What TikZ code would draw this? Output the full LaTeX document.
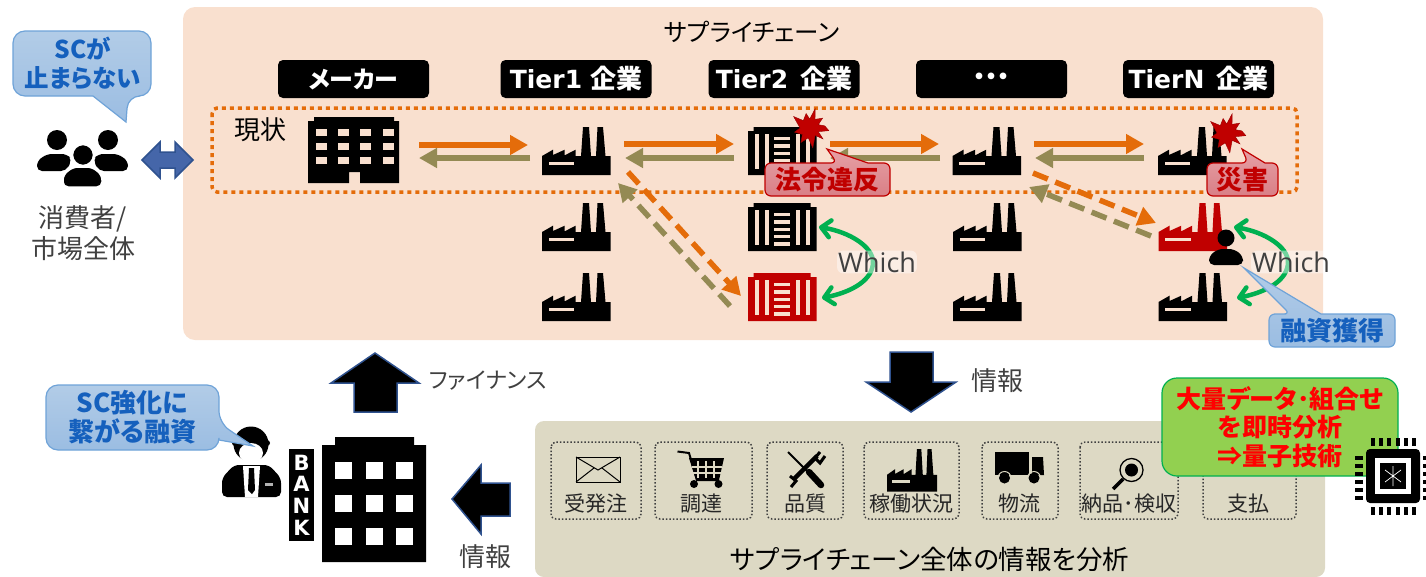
\documentclass[tikz,border=0pt]{standalone}
\usepackage{fontspec}
\usetikzlibrary{arrows.meta,calc}
\setmainfont[RawFeature=+palt]{Noto Sans CJK JP}
\newfontfamily\latinb{DejaVu Sans}
\newfontfamily\lightf{Open Sans}
\newcommand\fsz[1]{\fontsize{#1}{#1}\selectfont}
\definecolor{panel}{HTML}{F9E0CF}
\definecolor{graypanel}{HTML}{DDD9C4}
\definecolor{forange}{HTML}{E46C0A}
\definecolor{folive}{HTML}{948A54}
\definecolor{crimson}{HTML}{C00000}
\definecolor{fblue}{HTML}{1560BD}
\definecolor{fblueB}{HTML}{4566A9}
\definecolor{boxgreen}{HTML}{92D050}
\definecolor{navyline}{HTML}{2F528F}
\definecolor{dgray}{HTML}{404040}
\definecolor{fgreen}{HTML}{00B050}
\definecolor{redtop}{HTML}{E6A0A5}
\definecolor{redbot}{HTML}{D97F86}
\definecolor{bluetop}{HTML}{B2CCE7}
\definecolor{bluebot}{HTML}{9BBDE2}
\definecolor{bluebd}{HTML}{6FA3D8}
\tikzset{
  pics/factory/.style n args={2}{code={
    \fill[#1] (0,48)--(0,29)--(11,22.7)--(11,28)--(22.7,22.7)--(22.7,28.3)--(33.7,22.7)--(33.7,29)--(39,29)--(41,0)--(47,0)--(49,29)--(54,29)--(55.5,0)--(61,0)--(63.5,29)--(68.5,29)--(68.5,48)--cycle;
    \fill[#2] (6.7,35) rectangle (32,38);
  }},
  pics/container/.style n args={2}{code={
    \fill[#1] (5.5,0)--(62.5,0)--(62.5,4)--(68.5,4)--(68.5,48)--(0,48)--(0,4)--(5.5,4)--cycle;
    \foreach \xa/\xb in {6.7/10.7,16.7/20.7,48.3/52.3,58/62}{\fill[#2] (\xa,7.3) rectangle (\xb,41.6);}
    \foreach \ya/\yb in {9.5/13,17/20.7,24.7/28,32/35,39/42.5}{\fill[#2] (26,\ya) rectangle (42,\yb);}
  }},
  pics/starburst/.style={code={
    \fill[crimson,draw=crimson!80!black,line width=.4pt] (8:19)--(24:9)--(40:17)--(55:9)--(82:20)--(100:10)--(122:17)--(140:10)--(165:16)--(180:10)--(215:20)--(228:10)--(255:15)--(268:9)--(285:20)--(300:10)--(322:16)--(338:9)--(352:15)--cycle;
  }},
  darrow/.style={line width=5.5pt,-{Triangle[length=18pt,width=19pt]}},
  orangearrow/.style={darrow,forange},
  olivearrow/.style={darrow,folive},
  dashline/.style={dash pattern=on 16pt off 8pt},
  greenarrow/.style={line width=4.5pt,fgreen,{Straight Barb[length=9pt,width=17pt,round]}-{Straight Barb[length=9pt,width=17pt,round]}},
  blockarrow/.style={fill=black,draw=navyline,line width=1.5pt,line join=miter},
  blacklabel/.style={fill=black,text=white,rounded corners=5pt,minimum width=151pt,minimum height=38pt,inner sep=0pt,font=\fsz{24}\bfseries},
  infobox/.style={draw=dgray,line width=1.5pt,dash pattern=on 1.5pt off 2pt,rounded corners=5pt},
  infotext/.style={text=black!85,font=\fsz{21},inner sep=0pt},
  graytext/.style={text=dgray,font=\fsz{26},inner sep=0pt,align=center},
  redcall/.style={draw=crimson,line width=1.2pt,top color=redtop,bottom color=redbot},
  bluecall/.style={draw=bluebd,line width=1.2pt,top color=bluetop,bottom color=bluebot},
  redtext/.style={text=crimson,font=\fsz{26}\bfseries,inner sep=0pt},
  bluetext/.style={text=fblue,font=\fsz{26}\bfseries,inner sep=0pt,align=center},
  whichtext/.style={text=dgray,font=\lightf\fsz{27},fill=white,fill opacity=.45,text opacity=1,rounded corners=6pt,inner sep=1pt},
}
\begin{document}
\begin{tikzpicture}[x=1pt,y=-1pt]
\useasboundingbox (0,0) rectangle (1426,576);
% panels
\fill[panel,rounded corners=12pt] (183,7) rectangle (1323,340);
\fill[graypanel,rounded corners=9pt] (535,421) rectangle (1325,577);
\node[inner sep=0pt,font=\fsz{24.5}] (title) at (752,32) {サプライチェーン};
% tier labels
\node[blacklabel] (lmaker) at (353.5,79) {メーカー};
\node[blacklabel] (ltier1) at (576,79) {{\latinb\fsz{25}\bfseries Tier1}\,\,{\fsz{26}企業}};
\node[blacklabel] (ltier2) at (784,79) {{\latinb\fsz{25}\bfseries Tier2}\,\,\,{\fsz{26}企業}};
\node[blacklabel] (ldots) at (991.5,79) {・・・};
\node[blacklabel] (ltierN) at (1198.5,79) {{\latinb\fsz{25}\bfseries TierN}\,\,\,{\fsz{26}企業}};
% dotted frame
\draw[forange,line width=3.5pt,dash pattern=on 4pt off 4pt,rounded corners=5pt] (212,108) rectangle (1297,192);
\node[inner sep=0pt,font=\fsz{26}] (genjo) at (260,130) {現状};
% maker building
\fill (314,117)--(394,117)--(394,121)--(399,121)--(399,183)--(360,183)--(360,172)--(349,172)--(349,183)--(308,183)--(308,121)--(314,121)--cycle;
\foreach \cx in {316,338,360,383}{\foreach \cy in {129,143,157}{\fill[panel] (\cx,\cy) rectangle ++(11,6.5);}}
% factories
\foreach \px/\py in {542/127,542/203,542/273,952.5/127,953/203,953/273,1158/127,1158.5/273}{\pic at (\px,\py) {factory={black}{panel}};}
\pic at (1158.5,203) {factory={crimson}{panel}};
\pic at (748,127) {container={black}{panel}};
\pic at (748,203) {container={black}{panel}};
\pic at (748,273) {container={crimson}{panel}};
% horizontal flow arrows
\coordinate (a1s) at (419,145); \coordinate (a1e) at (528,145);
\coordinate (b1s) at (530,158); \coordinate (b1e) at (419,158);
\coordinate (a2s) at (624,144); \coordinate (a2e) at (734,144);
\coordinate (b2s) at (734,158); \coordinate (b2e) at (625,158);
\coordinate (a3s) at (830,144); \coordinate (a3e) at (939,144);
\coordinate (b3s) at (940,158); \coordinate (b3e) at (830,158);
\coordinate (a4s) at (1034,144); \coordinate (a4e) at (1144,144);
\coordinate (b4s) at (1144,158); \coordinate (b4e) at (1035,158);
\foreach \n in {1,2,3,4}{
  \draw[orangearrow] (a\n s) -- (a\n e);
  \draw[olivearrow] (b\n s) -- (b\n e);
}
% diagonals
\coordinate (d1s) at (628,172); \coordinate (d1e) at (741,296);
\coordinate (e1s) at (730,306); \coordinate (e1e) at (618,183);
\coordinate (d2s) at (1033,173); \coordinate (d2e) at (1156,223);
\coordinate (e2s) at (1151,236); \coordinate (e2e) at (1029,187);
\draw[orangearrow,dashline] (d1s) -- (d1e);
\draw[olivearrow,dashline] (e1s) -- (e1e);
\draw[orangearrow,dashline] (d2s) -- (d2e);
\draw[olivearrow,dashline] (e2s) -- (e2e);
% green arrows
\coordinate (g1a) at (819,227); \coordinate (g1m) at (873,262); \coordinate (g1b) at (822,298);
\coordinate (g2a) at (1234,227); \coordinate (g2m) at (1288,262); \coordinate (g2b) at (1237,298);
\draw[greenarrow] (g1a) .. controls (850,232) and (873,247) .. (g1m) .. controls (873,280) and (852,292) .. (g1b);
\draw[greenarrow] (g2a) .. controls (1265,232) and (1288,247) .. (g2m) .. controls (1288,280) and (1267,292) .. (g2b);
\node[whichtext] (which1) at (877,262) {Which};
\node[whichtext] (which2) at (1291,262) {Which};
% person on red factory
\fill (1226,238) circle (8.5pt);
\fill[rounded corners=5pt] (1209,265)--(1209,256)--(1218,249)--(1234,249)--(1243,256)--(1243,265)--cycle;
% stars
\pic at (810,128) {starburst};
\pic at (1227,133) {starburst};
% red callouts
\draw[redcall,rounded corners=6pt] (800,163) -- (837,163) [sharp corners] -- (827,149) -- (868,163) [rounded corners=6pt] -- (890,163) -- (890,196) -- (765,196) -- (765,163) -- cycle;
\node[redtext] (law) at (827.5,180) {法令違反};
\draw[redcall,rounded corners=6pt] (1225,163) -- (1248,163) [sharp corners] -- (1242,149) -- (1265,163) [rounded corners=6pt] -- (1278,163) -- (1278,196) -- (1207,196) -- (1207,163) -- cycle;
\node[redtext] (dis) at (1242.5,180) {災害};
% blue callouts
\draw[bluecall,rounded corners=6pt] (1280,314) -- (1290,314) [sharp corners] -- (1244,268) -- (1321,314) [rounded corners=6pt] -- (1395,314) -- (1395,347) -- (1269,347) -- (1269,314) -- cycle;
\node[bluetext] (fin) at (1332,331) {融資獲得};
\draw[bluecall,rounded corners=12pt] (60,31) -- (151,31) -- (151,96) -- (128,96) [sharp corners] -- (126,122) -- (93,96) [rounded corners=12pt] -- (13,96) -- (13,31) -- cycle;
\node[bluetext,font=\fsz{24.5}\bfseries] (sc) at (83,63.5) {SCが\\[4pt]止まらない};
% banker
\fill[rounded corners=5pt] (222,497)--(222,478)--(234,465)--(269,465)--(281,478)--(281,497)--cycle;
\fill (251,444) circle (17.5pt);
\fill (235,443) circle (3pt) (267,443) circle (3pt);
\fill[white] (251,453) ellipse (12pt and 10pt);
\fill[white] (243,466)--(260,466)--(258,497)--(245,497)--cycle;
\fill (249,468)--(254,468)--(255,490)--(252,494)--(248,490)--cycle;
\fill[white!70!black] (265,483) rectangle (273,486);
\draw[bluecall,rounded corners=12pt] (120,385) -- (219,385) -- (219,423) [sharp corners] -- (253,446) -- (219,440) [rounded corners=12pt] -- (219,450) -- (46,450) -- (46,385) -- cycle;
\node[bluetext] (scs) at (132.5,417.5) {SC強化に\\[3pt]繋がる融資};
% consumers
\fill (57,140) circle (10pt) (108,140) circle (10pt);
\fill[rounded corners=5pt] (37,171)--(37,161)--(47,154)--(67,154)--(72,160)--(66,171)--cycle;
\fill[rounded corners=5pt] (128,171)--(128,161)--(118,154)--(98,154)--(93,160)--(99,171)--cycle;
\draw[white,line width=1.5pt,fill=black] (83,155) circle (10.5pt);
\draw[white,line width=1.5pt,fill=black,rounded corners=5pt] (63,187)--(63,175)--(73,167)--(92,167)--(102,175)--(102,187)--cycle;
\node[graytext] (cons) at (83,233) {消費者/\\[4pt]市場全体};
% double arrow
\draw[fill=fblueB,draw=navyline,line width=1.5pt] (142,160)--(160,142)--(160,152)--(175,152)--(175,142)--(193,160)--(175,178)--(175,168)--(160,168)--(160,178)--cycle;
% block arrows
\draw[blockarrow] (375,353)--(419,383)--(397,383)--(397,412)--(354,412)--(354,383)--(331,383)--cycle;
\node[graytext,font=\fsz{22.5}] (finance) at (488,381) {ファイナンス};
\draw[blockarrow] (911,412)--(956,382)--(933,382)--(933,352)--(890,352)--(890,382)--(866,382)--cycle;
\node[graytext] (info1) at (997,381) {情報};
\draw[blockarrow] (452,499)--(481,465)--(481,483)--(510,483)--(510,516)--(481,516)--(481,534)--cycle;
\node[graytext] (info2) at (485,557) {情報};
% bank building
\fill (335,437)--(414,437)--(414,445)--(426,445)--(426,562)--(322,562)--(322,445)--(335,445)--cycle;
\foreach \cx in {335,366,396}{\foreach \cy in {462,495,528}{\fill[white] (\cx,\cy) rectangle ++(17,17);}}
\node[fill=black,text=white,minimum width=25pt,minimum height=92pt,inner sep=0pt,align=center,font=\latinb\bfseries\fontsize{21}{21.7}\selectfont] (bank) at (301.5,495) {B\\A\\N\\K};
% info boxes
\foreach \xa/\xb in {551/641,655/752,767/843,864/959,982/1058,1080/1178,1203/1296}{
  \draw[infobox] (\xa,442) rectangle (\xb,519);}
\node[infotext] (t1) at (596,504) {受発注};
\node[infotext] (t2) at (701,504) {調達};
\node[infotext] (t3) at (805,504) {品質};
\node[infotext] (t4) at (911.5,504) {稼働状況};
\node[infotext] (t5) at (1019,504) {物流};
\node[infotext] (t6) at (1129,504) {納品･検収};
\node[infotext] (t7) at (1248,504) {支払};
% envelope
\draw[black,line width=1pt,fill=graypanel] (576,457) rectangle (620,482);
\draw[black,line width=1pt] (576,457)--(598,470)--(620,457) (576,482)--(594,468) (620,482)--(602,468);
% cart
\draw[black,line width=2pt] (677.5,451.5)--(689,453)--(697,480)--(719,480);
\fill (689,458) -- (724,458) -- (719,480) -- (696,480) -- cycle;
\foreach \gx in {698,706,714}{\draw[graypanel,line width=1.2pt] (\gx,461)--(\gx,478);}
\foreach \gy in {467,473}{\draw[graypanel,line width=1.2pt] (692,\gy)--(722,\gy);}
\fill (694,484) circle (4pt) (718.5,484) circle (4pt);
% tools
\draw[line width=1.8pt,black] (788,452)--(810,474);
\draw[line width=6.5pt,black,line cap=round] (809,472)--(821,485);
\draw[line width=4.5pt,black] (794,479)--(817,456);
\draw[line width=3pt,black] (790,476)--(796,481)--(791,487) (820,452)--(815,458)--(820,463)--(825,456);
% factory in box
\pic[xscale=.73,yscale=.89] at (887,449) {factory={black}{graypanel}};
% truck
\fill (995,452) rectangle (1029,475);
\fill (1032,457)--(1043,457)--(1044,475)--(1032,475)--cycle;
\draw[graypanel,line width=1pt] (1004.5,478) circle (6.5pt) (1034,478) circle (6.5pt);
\fill (1004.5,478) circle (5.5pt) (1034,478) circle (5.5pt);
% magnifier
\draw[line width=1.3pt,black,fill=graypanel] (1131.5,470) circle (11.5pt);
\fill (1131.5,470) circle (6.5pt);
\draw[line width=3.5pt,black] (1123,479)--(1113,489);
% bottom caption
\node[inner sep=0pt,font=\fsz{26.5}] (caption) at (930,559) {サプライチェーン全体の情報を分析};
% green box
\node[draw=fgreen,line width=1.2pt,fill=boxgreen,rounded corners=15pt,minimum width=236pt,minimum height=98pt,inner sep=0pt,text=red,align=center,font=\bfseries\fontsize{25}{28.5}\selectfont] (quantum) at (1280,427) {大量データ･組合せ\\を即時分析\\⇒量子技術};
% chip
\fill[rounded corners=4pt] (1366,449) rectangle (1420,503);
\fill[white] (1375,458) rectangle (1411,494);
\fill (1380,463) rectangle (1406,489);
\draw[white,line width=.7pt] (1393,466)--(1393,486) (1385,470)--(1393,476)--(1401,470) (1385,482)--(1393,476)--(1401,482);
\foreach \k in {0,1,2,3,4,5}{
  \fill (1371+\k*8.2,438) rectangle ++(4,8);
  \fill (1371+\k*8.2,507) rectangle ++(4,8);
  \fill (1355,456+\k*8) rectangle ++(8,4);
  \fill (1423,456+\k*8) rectangle ++(8,4);
}
\end{tikzpicture}
\end{document}
